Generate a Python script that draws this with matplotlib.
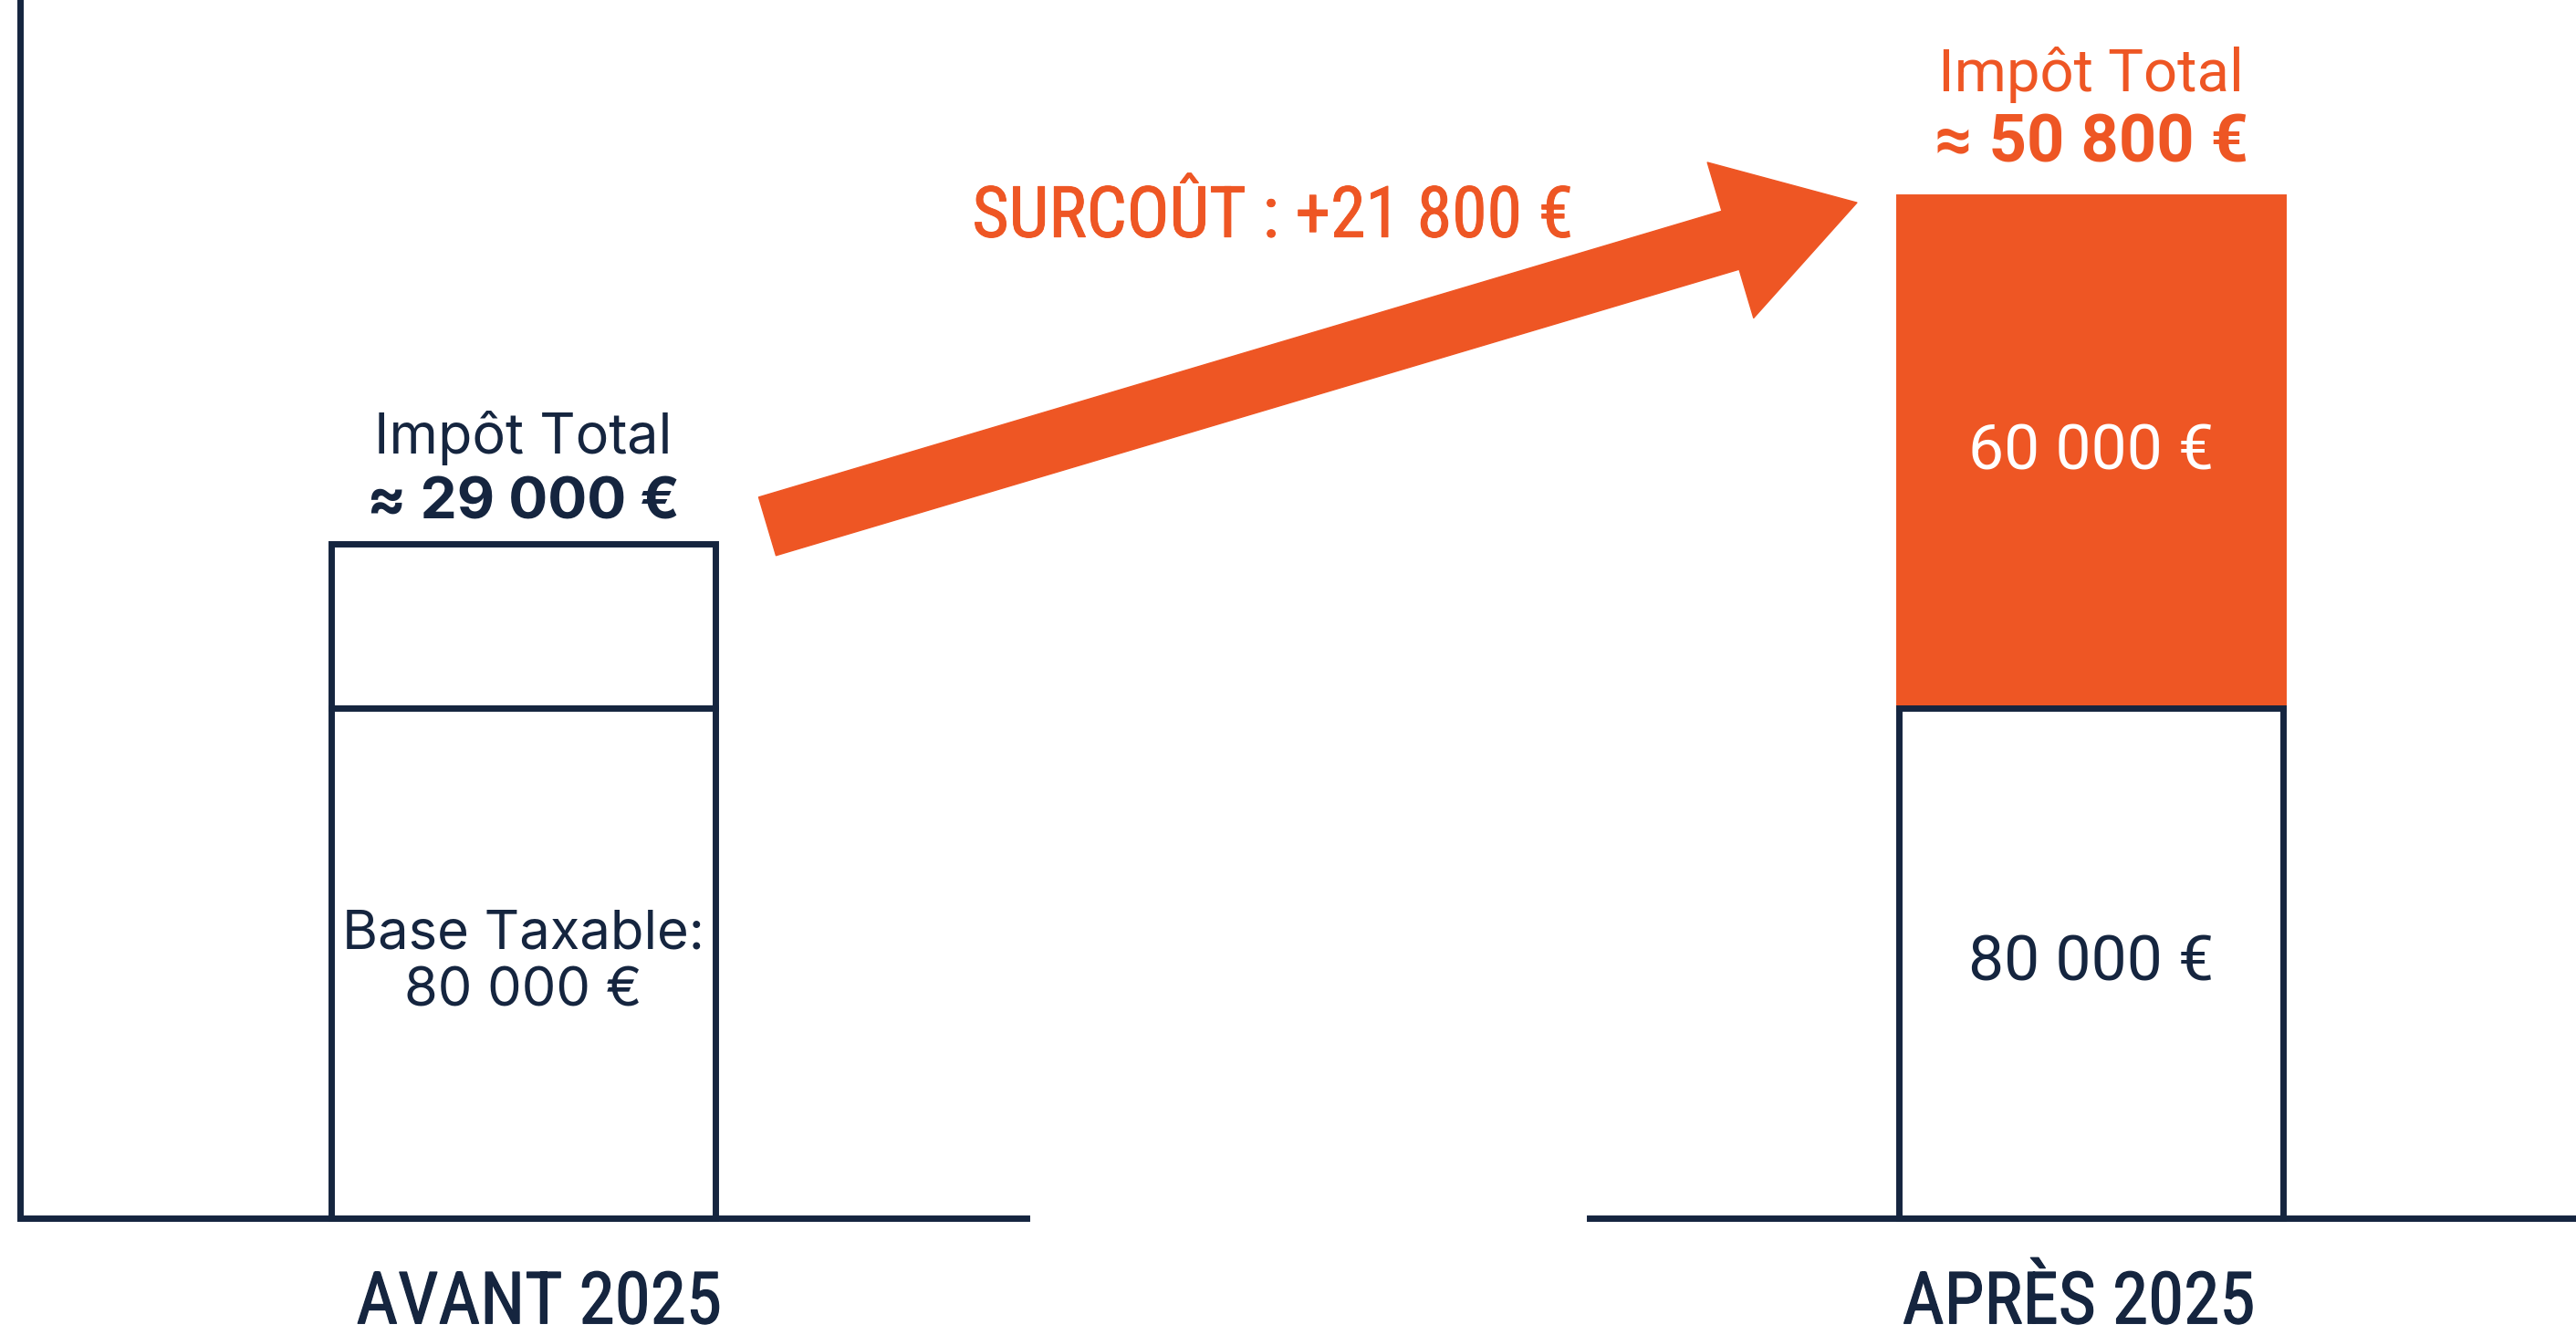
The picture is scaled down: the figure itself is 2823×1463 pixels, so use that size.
import matplotlib.pyplot as plt
import matplotlib.patheffects as pe
from matplotlib import font_manager

# donnees (hauteurs visuelles des segments)
categories = ['AVANT 2025', 'APRÈS 2025']
base_height = [80, 80]
extra_height = [25.7, 80]
base_labels = ['Base Taxable:\n80 000 €', '80 000 €']
extra_labels = ['', '60 000 €']
total_titles = ['Impôt Total', 'Impôt Total']
total_labels = ['≈ 29 000 €', '≈ 50 800 €']
surcout_label = 'SURCOÛT : +21 800 €'

navy = '#15253f'
orange = '#ee5624'

# police condensee si dispo
names = {f.name for f in font_manager.fontManager.ttflist}
cond = next((n for n in ['Roboto Condensed', 'Liberation Sans Narrow',
                         'DejaVu Sans Condensed', 'Open Sans Condensed']
             if n in names), 'DejaVu Sans')
cond_fam = [cond, 'DejaVu Sans']
left_fam = ['Inter', 'DejaVu Sans']
right_fam = ['Roboto', 'DejaVu Sans']

fig = plt.figure(figsize=(28.23, 14.63), dpi=100)
ax = fig.add_axes([0, 0, 1, 1])
ax.set_xlim(-0.3337, 1.3091)
ax.set_ylim(-18.26, 190.84)
ax.axis('off')

x = list(range(len(categories)))
w = 0.245

# segments du haut
ax.bar(x, extra_height, width=w, bottom=base_height,
       color=['white', orange], edgecolor=[navy, orange], linewidth=5, zorder=2)
# base taxable
ax.bar(x, base_height, width=w, color='white', edgecolor=navy,
       linewidth=5, zorder=3)

# axes dessines a la main
ax.plot([-0.321, -0.321, 0.321], [200, 0, 0], color=navy, lw=5,
        solid_capstyle='projecting', solid_joinstyle='miter', zorder=4)
ax.plot([0.68, 1.4], [0, 0], color=navy, lw=5, zorder=4)

fams = [left_fam, right_fam]
inner_size = [43, 50]

# textes dans les barres
for i in x:
    ax.text(i, base_height[i] / 2, base_labels[i], ha='center', va='center',
            fontsize=inner_size[i], color=navy, family=fams[i],
            linespacing=1.2, zorder=5)
    if extra_labels[i]:
        ax.text(i, base_height[i] + extra_height[i] / 2, extra_labels[i],
                ha='center', va='center', fontsize=inner_size[i], color='white',
                family=fams[i], zorder=5)

# totaux au-dessus
offsets = [(116, 44), (134, 58)]
title_size = [44, 47]
total_size = [46, 52]
colors = [navy, orange]
for i in x:
    top = base_height[i] + extra_height[i]
    ax.annotate(total_titles[i], (i, top), xytext=(0, offsets[i][0] / 1.389),
                textcoords='offset points', ha='center', va='center',
                fontsize=title_size[i], color=colors[i], family=fams[i])
    ax.annotate(total_labels[i], (i, top), xytext=(0, offsets[i][1] / 1.389),
                textcoords='offset points', ha='center', va='center',
                fontsize=total_size[i], color=colors[i], family=fams[i],
                fontweight='bold')

# categories (un peu epaissies)
for i in x:
    ax.text(i + (0.01 if i == 0 else -0.008), -13.3, categories[i],
            ha='center', va='center', fontsize=57, color=navy,
            family=cond_fam,
            path_effects=[pe.withStroke(linewidth=0.9, foreground=navy)])

# fleche du surcout
ax.annotate('', xy=(0.8505, 159.1), xytext=(0.1557, 108.4),
            arrowprops=dict(arrowstyle='simple,head_length=104,head_width=128,tail_width=48',
                            mutation_scale=1, color=orange, shrinkA=0, shrinkB=0),
            zorder=6)
ax.text(0.478, 156.8, surcout_label, ha='center', va='center', fontsize=56,
        color=orange, family=cond_fam,
        path_effects=[pe.withStroke(linewidth=0.7, foreground=orange)])

fig.savefig('out.png', dpi=100, facecolor='white')
